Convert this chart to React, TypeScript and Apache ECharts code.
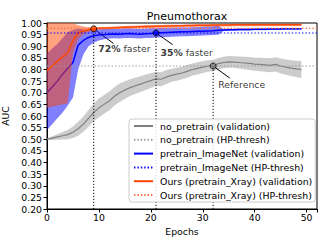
import React, { useEffect, useRef } from "react";
import * as echarts from "echarts";

const epochs = [0,1,2,3,4,5,6,7,8,9,10,11,12,13,14,15,16,17,18,19,20,21,22,23,24,25,26,27,28,29,30,31,32,33,34,35,36,37,38,39,40,41,42,43,44,45,46,47,48,49];

const grayMean = [0.500,0.505,0.510,0.515,0.520,0.530,0.545,0.565,0.590,0.615,0.635,0.650,0.665,0.685,0.700,0.712,0.722,0.730,0.737,0.745,0.752,0.760,0.758,0.768,0.775,0.780,0.785,0.792,0.800,0.805,0.810,0.815,0.817,0.825,0.830,0.833,0.832,0.830,0.828,0.826,0.823,0.822,0.820,0.818,0.822,0.815,0.810,0.806,0.803,0.800];
const grayStd = [0.004,0.008,0.012,0.016,0.020,0.025,0.030,0.033,0.036,0.038,0.040,0.040,0.040,0.040,0.040,0.038,0.036,0.035,0.034,0.033,0.032,0.030,0.030,0.030,0.028,0.028,0.027,0.027,0.026,0.026,0.025,0.025,0.025,0.025,0.025,0.025,0.025,0.026,0.027,0.028,0.028,0.029,0.030,0.030,0.031,0.032,0.033,0.034,0.035,0.037];

const blueMean = [0.700,0.725,0.750,0.780,0.805,0.830,0.905,0.925,0.938,0.945,0.948,0.950,0.952,0.953,0.952,0.954,0.955,0.953,0.952,0.954,0.955,0.957,0.958,0.959,0.960,0.961,0.962,0.962,0.963,0.964,0.965,0.966,0.967,0.969,0.970,0.971,0.971,0.972,0.972,0.972,0.973,0.973,0.973,0.974,0.974,0.974,0.975,0.975,0.975,0.975];
const blueLo = [0.540,0.565,0.590,0.615,0.645,0.680,0.800,0.865,0.900,0.915,0.925,0.930,0.933,0.934,0.933,0.935,0.936,0.934,0.933,0.935,0.936,0.938,0.939,0.940,0.941,0.942,0.943,0.943,0.944,0.945,0.946,0.947,0.948,0.950,0.966,0.967,0.967,0.968,0.968,0.968,0.969,0.969,0.969,0.970,0.970,0.970,0.971,0.971,0.971,0.971];
const blueHi = [0.870,0.890,0.910,0.935,0.960,0.970,0.975,0.972,0.970,0.972,0.973,0.974,0.975,0.975,0.974,0.976,0.977,0.975,0.974,0.976,0.977,0.978,0.979,0.980,0.980,0.981,0.981,0.981,0.982,0.983,0.984,0.985,0.986,0.988,0.974,0.975,0.975,0.976,0.976,0.976,0.977,0.977,0.977,0.978,0.978,0.978,0.979,0.979,0.979,0.979];

const oursMean = [0.795,0.815,0.835,0.855,0.872,0.925,0.958,0.966,0.971,0.975,0.977,0.978,0.979,0.980,0.981,0.982,0.983,0.983,0.984,0.985,0.985,0.986,0.986,0.987,0.987,0.988,0.988,0.989,0.989,0.990,0.990,0.990,0.991,0.991,0.991,0.991,0.992,0.992,0.992,0.992,0.992,0.992,0.993,0.993,0.993,0.993,0.993,0.993,0.993,0.993];
const oursLo = [0.636,0.640,0.645,0.650,0.655,0.870,0.930,0.952,0.962,0.968,0.971,0.972,0.973,0.974,0.975,0.976,0.977,0.977,0.978,0.979,0.979,0.980,0.980,0.981,0.981,0.982,0.982,0.983,0.983,0.984,0.984,0.984,0.985,0.985,0.985,0.985,0.986,0.986,0.986,0.986,0.986,0.986,0.987,0.987,0.987,0.987,0.987,0.987,0.987,0.987];
const oursHi = [1.000,1.000,1.000,1.000,1.000,1.000,0.990,0.985,0.982,0.981,0.982,0.983,0.984,0.985,0.986,0.987,0.988,0.988,0.989,0.990,0.990,0.991,0.991,0.992,0.992,0.993,0.993,0.994,0.994,0.995,0.995,0.995,0.996,0.996,0.996,0.996,0.997,0.997,0.997,0.997,0.997,0.997,0.997,0.997,0.997,0.997,0.997,0.997,0.997,0.997];

const grayThresh = 0.815;
const blueThresh = 0.957;
const oursThresh = 0.977;

// annotation points [epoch, auc]
const annoPoints = [[9, 0.975], [21, 0.957], [32, 0.815]];
const annoColors = ["#ff4500", "#0000ff", "#808080"];
const annoTexts = ["{b|72%} faster", "{b|35%} faster", "Reference"];
const annoTextPos = [[14.9, 0.889], [26.9, 0.875], [37.5, 0.734]];
const annoArrowFrom = [[12.8, 0.912], [24.2, 0.907], [35.2, 0.763]];

const xMin = 0, xMax = 52, yMin = 0.2, yMax = 1.0;
const FONT = "DejaVu Sans";
const GRAY = "#808080", BLUE = "#0000ff", ORANGE = "#ff4500";

function band(lo: number[], hi: number[], color: string, z: number) {
  const data = epochs.map((e, i) => [e, lo[i], hi[i]]);
  return {
    type: "custom",
    z,
    silent: true,
    clip: true,
    encode: { x: 0, y: [1, 2] },
    data,
    renderItem: (params: any, api: any) => {
      if (params.dataIndex !== 0) return null;
      const top = data.map((d) => api.coord([d[0], d[2]]));
      const bot = data.map((d) => api.coord([d[0], d[1]])).reverse();
      return { type: "polygon", shape: { points: top.concat(bot) }, style: { fill: color } };
    },
  };
}

function meanLine(name: string, vals: number[], color: string, width: number, z: number) {
  return {
    name, type: "line", z, silent: true, symbol: "none",
    data: epochs.map((e, i) => [e, vals[i]]),
    lineStyle: { color, width }, itemStyle: { color },
  };
}

function threshLine(name: string, v: number, color: string, z: number) {
  return {
    name, type: "line", z, silent: true, symbol: "none",
    data: [[xMin, v], [xMax, v]],
    lineStyle: { color, width: 1.2, type: [1.4, 2] }, itemStyle: { color },
  };
}

export default function App() {
  const ref = useRef<HTMLDivElement>(null);
  useEffect(() => {
    const chart = echarts.init(ref.current!, null, { renderer: "svg" });
    const series: any[] = [
      meanLine("no_pretrain (validation)", grayMean, GRAY, 1.2, 2),
      band(grayMean.map((m, i) => m - grayStd[i]), grayMean.map((m, i) => m + grayStd[i]), "rgba(128,128,128,0.4)", 3),
      meanLine("pretrain_ImageNet (validation)", blueMean, BLUE, 1.5, 4),
      band(blueLo, blueHi, "rgba(0,0,255,0.5)", 5),
      meanLine("Ours (pretrain_Xray) (validation)", oursMean, ORANGE, 1.5, 6),
      band(oursLo, oursHi, "rgba(255,69,0,0.5)", 7),
      threshLine("no_pretrain (HP-thresh)", grayThresh, "#999999", 8),
      threshLine("pretrain_ImageNet (HP-thresh)", blueThresh, BLUE, 8),
      threshLine("Ours (pretrain_Xray) (HP-thresh)", oursThresh, "#ff6a3d", 8),
    ];
    annoPoints.forEach((p, i) => {
      series.push({
        type: "line", z: 9, silent: true, symbol: "none",
        data: [[p[0], yMin], [p[0], p[1]]],
        lineStyle: { color: "#000", width: 1, type: [1.2, 1.8] },
        markLine: {
          silent: true, symbol: ["none", "arrow"], symbolSize: [0, 7],
          label: { show: false },
          lineStyle: { color: "#000", width: 1, type: "solid" },
          data: [[{ coord: annoArrowFrom[i] }, { coord: p }]],
        },
      });
    });
    series.push({
      type: "scatter", z: 10, silent: true, symbol: "circle", symbolSize: 6,
      data: annoPoints.map((p, i) => ({ value: p, itemStyle: { color: annoColors[i], borderColor: "#000", borderWidth: 1 } })),
    });
    series.push({
      type: "scatter", z: 10, silent: true, symbolSize: 0,
      data: annoTextPos.map((p, i) => ({
        value: p,
        label: {
          show: true, position: "inside", formatter: annoTexts[i],
          fontFamily: FONT, fontSize: 9.3, color: "#000",
          rich: { b: { fontWeight: "bold", fontFamily: FONT, fontSize: 9.3, color: "#000" } },
        },
      })),
    });

    chart.setOption({
      animation: false,
      backgroundColor: "#fff",
      textStyle: { fontFamily: FONT },
      title: {
        text: "Pneumothorax", left: 182, top: 6, textAlign: "center",
        textStyle: { fontFamily: FONT, fontSize: 11, fontWeight: "normal", color: "#000" },
      },
      grid: { left: 47, right: 10, top: 23, bottom: 36, show: true, borderColor: "#000", borderWidth: 1, backgroundColor: "transparent", outerBoundsMode: "none", containLabel: false },
      legend: {
        z: 20,
        orient: "vertical", left: 129, top: 119,
        padding: [1, 3, 1, 4],
        itemWidth: 19, itemHeight: 8, itemGap: 1.8,
        itemStyle: { opacity: 0 },
        backgroundColor: "rgba(255,255,255,0.85)", borderColor: "#cccccc", borderWidth: 1, borderRadius: 3,
        textStyle: { fontFamily: FONT, fontSize: 9.4, color: "#000", lineHeight: 12, padding: [0, 0, 0, 2] },
        data: [
          "no_pretrain (validation)", "no_pretrain (HP-thresh)",
          "pretrain_ImageNet (validation)", "pretrain_ImageNet (HP-thresh)",
          "Ours (pretrain_Xray) (validation)", "Ours (pretrain_Xray) (HP-thresh)",
        ],
      },
      xAxis: {
        type: "value", min: xMin, max: xMax, interval: 10,
        name: "Epochs", nameLocation: "middle", nameGap: 16,
        nameTextStyle: { fontFamily: FONT, fontSize: 9.3, color: "#000" },
        axisLine: { lineStyle: { color: "#000" } },
        axisTick: { length: 3.5, lineStyle: { color: "#000" } },
        axisLabel: { fontFamily: FONT, fontSize: 9.3, color: "#000", margin: 4, formatter: (v: number) => (v % 10 === 0 ? String(v) : "") },
        splitLine: { show: false },
      },
      yAxis: {
        type: "value", min: yMin, max: yMax, interval: 0.05,
        name: "AUC", nameLocation: "middle", nameGap: 31,
        nameTextStyle: { fontFamily: FONT, fontSize: 9.3, color: "#000" },
        axisLine: { show: true, lineStyle: { color: "#000" } },
        axisTick: { show: true, length: 3.5, lineStyle: { color: "#000" } },
        axisLabel: { fontFamily: FONT, fontSize: 9.3, color: "#000", margin: 5, formatter: (v: number) => v.toFixed(2) },
        splitLine: { show: false },
      },
      series,
    });
    return () => chart.dispose();
  }, []);
  return <div ref={ref} style={{ width: 327, height: 245, position: "absolute", left: 0, top: 0 }} />;
}
